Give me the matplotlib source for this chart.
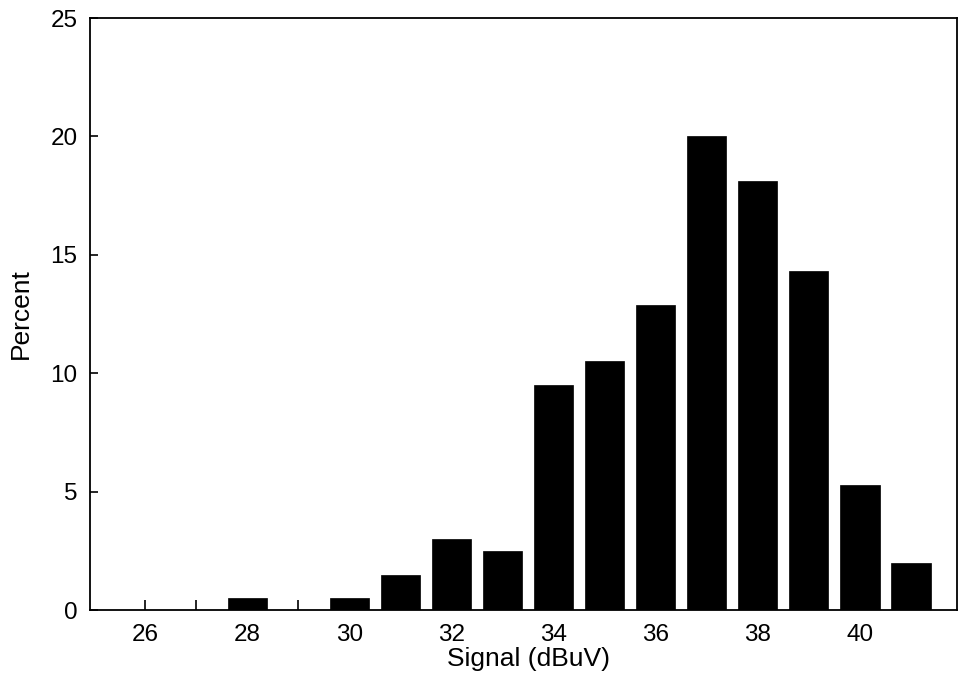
import matplotlib
matplotlib.use("Agg")
import matplotlib.pyplot as plt

# signal level bins (dBuV) and share of measurements in each bin
signal = [28, 30, 31, 32, 33, 34, 35, 36, 37, 38, 39, 40, 41]
percent = [0.5, 0.5, 1.5, 3.0, 2.5, 9.5, 10.5, 12.9, 20.0, 18.1, 14.3, 5.3, 2.0]

x_ticks = [26, 28, 30, 32, 34, 36, 38, 40]
y_ticks = [0, 5, 10, 15, 20, 25]

plt.rcParams['font.family'] = ['Liberation Sans', 'DejaVu Sans']

fig = plt.figure(figsize=(9.59, 6.8), dpi=100)
ax = fig.add_axes([0.0938, 0.1029, 0.904, 0.8706])

ax.bar(signal, percent, width=0.77, color='black', edgecolor='black', linewidth=0.5)

ax.set_xlim(24.92, 41.9)
ax.set_ylim(0, 25)

ax.set_xticks(x_ticks)
ax.set_xticks(range(26, 42), minor=True)
ax.set_yticks(y_ticks)

ax.tick_params(axis='x', which='both', direction='in', length=7, width=1.2,
               labelsize=17.5, pad=10, top=False)
ax.tick_params(axis='y', direction='in', length=6, width=1.2,
               labelsize=17.5, pad=9, right=False)

for sp in ax.spines.values():
    sp.set_linewidth(1.3)

ax.set_xlabel('Signal (dBuV)', fontsize=19)
ax.set_ylabel('Percent', fontsize=19)
ax.xaxis.set_label_coords(0.506, -0.062)
ax.yaxis.set_label_coords(-0.066, 0.5)

fig.savefig('out.png', dpi=100)
